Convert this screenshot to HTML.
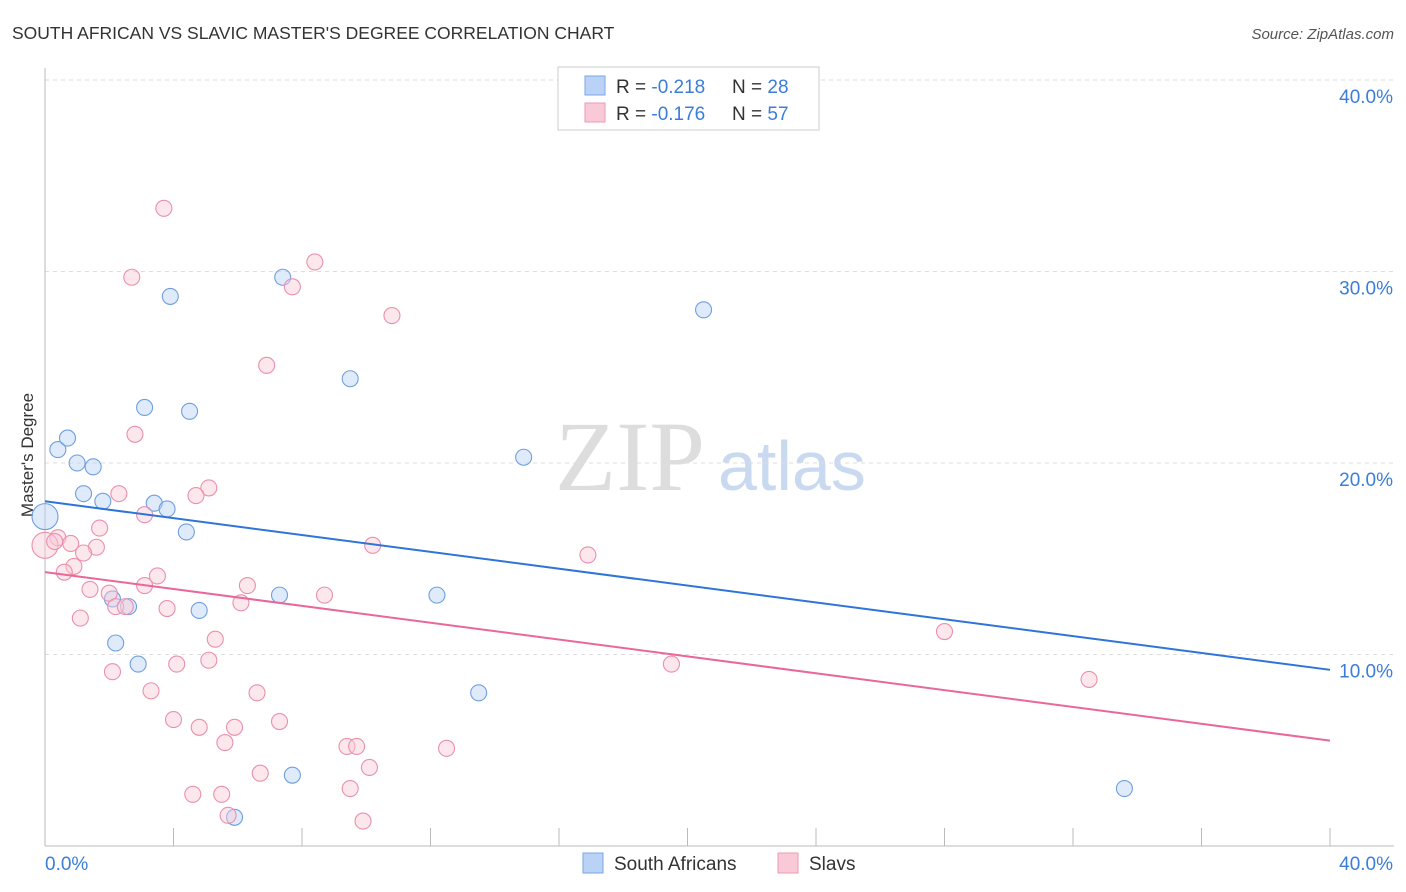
<!DOCTYPE html>
<html><head><meta charset="utf-8"><style>
body{margin:0;background:#fff;font-family:"Liberation Sans",sans-serif;}
svg{display:block}
</style></head><body>
<svg width="1406" height="892">
<text x="12" y="39" font-size="17.5" fill="#333">SOUTH AFRICAN VS SLAVIC MASTER'S DEGREE CORRELATION CHART</text>
<text x="1394" y="39" font-size="15" fill="#555" font-style="italic" text-anchor="end">Source: ZipAtlas.com</text>
<text x="33" y="455" font-size="17" fill="#333" transform="rotate(-90 33 455)" text-anchor="middle">Master's Degree</text>
<text x="555" y="490" font-size="100" fill="#ddd" font-family="Liberation Serif,serif">ZIP</text>
<text x="718" y="490" font-size="70" fill="#c9d9f0">atlas</text>
<g id="grid"></g><g id="axes"></g><g id="marks"></g>
<g>
<rect x="558" y="67" width="261" height="63" fill="#fff" stroke="#ccc"/>
<rect x="585" y="76" width="20" height="19" fill="#b9d2f5" stroke="#7aa6e6"/>
<rect x="585" y="103" width="20" height="19" fill="#f9c9d7" stroke="#ec9ab5"/>
<text x="616" y="93" font-size="19" fill="#333">R = <tspan fill="#3b7dd8">-0.218</tspan>  <tspan x="732">N = </tspan><tspan fill="#3b7dd8">28</tspan></text>
<text x="616" y="120" font-size="19" fill="#333">R = <tspan fill="#3b7dd8">-0.176</tspan>  <tspan x="732">N = </tspan><tspan fill="#3b7dd8">57</tspan></text>
</g>
<g>
<rect x="583" y="853" width="20" height="20" fill="#b9d2f5" stroke="#7aa6e6"/>
<text x="614" y="870" font-size="19" fill="#333">South Africans</text>
<rect x="778" y="853" width="20" height="20" fill="#f9c9d7" stroke="#ec9ab5"/>
<text x="809" y="870" font-size="19" fill="#333">Slavs</text>
</g>
</svg>
<script>
const yTicks=[10,20,30,40];
const yTickLabels=["10.0%","20.0%","30.0%","40.0%"];
const blueX=[0,0.4,0.7,1.0,1.5,1.2,1.8,3.1,3.9,4.5,3.4,3.8,4.4,2.1,2.6,2.2,2.9,4.8,7.4,7.3,9.5,7.7,5.9,12.2,13.5,14.9,20.5,33.6];
const blueY=[17.2,20.7,21.3,20.0,19.8,18.4,18.0,22.9,28.7,22.7,17.9,17.6,16.4,12.9,12.5,10.6,9.5,12.3,29.7,13.1,24.4,3.7,1.5,13.1,8.0,20.3,28.0,3.0];
const pinkX=[3.7,2.7,8.4,7.7,10.8,6.9,2.8,2.3,5.1,4.7,3.1,1.7,0.4,0,0.8,1.6,1.2,10.2,16.9,0.9,0.6,3.5,3.1,6.3,1.4,2.0,8.7,6.1,2.2,2.5,3.8,1.1,5.3,5.1,4.1,2.1,19.5,28.0,32.5,3.3,6.6,4.0,4.8,7.3,5.9,5.6,9.4,9.7,12.5,10.1,6.7,9.5,4.6,5.5,5.7,9.9,0.3];
const pinkY=[33.3,29.7,30.5,29.2,27.7,25.1,21.5,18.4,18.7,18.3,17.3,16.6,16.1,15.7,15.8,15.6,15.3,15.7,15.2,14.6,14.3,14.1,13.6,13.6,13.4,13.2,13.1,12.7,12.5,12.5,12.4,11.9,10.8,9.7,9.5,9.1,9.5,11.2,8.7,8.1,8.0,6.6,6.2,6.5,6.2,5.4,5.2,5.2,5.1,4.1,3.8,3.0,2.7,2.7,1.6,1.3,15.9];
const blueTrend=[18.0,9.2];
const pinkTrend=[14.3,5.5];
const NS="http://www.w3.org/2000/svg";
const sx=v=>45+v*32.125, sy=v=>846-v*19.15;
function mk(t,a,p){const e=document.createElementNS(NS,t);for(const k in a)e.setAttribute(k,a[k]);document.getElementById(p).appendChild(e);return e;}
yTicks.forEach((t,i)=>{
 const g=mk('line',{x1:45,x2:1394,y1:sy(t),y2:sy(t),stroke:'#ddd','stroke-dasharray':'4 4'},'grid');
 
 
 const l=mk('text',{x:1393,y:sy(t)+23,'font-size':19,fill:'#3b7dd8','text-anchor':'end'},'axes');l.textContent=yTickLabels[i];
 
 
});
mk('line',{x1:45,x2:45,y1:68,y2:846,stroke:'#bbb'},'axes');
mk('line',{x1:45,x2:1394,y1:846,y2:846,stroke:'#bbb'},'axes');
for(let i=0;i<=10;i++){const t=mk('line',{x1:sx(i*4),x2:sx(i*4),y1:828,y2:846,stroke:'#bbb'},'axes');
 
 }
const x0=mk('text',{x:45,y:870,'font-size':19,fill:'#3b7dd8'},'axes');x0.textContent='0.0%';


const x1=mk('text',{x:1393,y:870,'font-size':19,fill:'#3b7dd8','text-anchor':'end'},'axes');x1.textContent='40.0%';


function pts(X,Y,f,s,name){X.forEach((x,i)=>{const r=(x===0)?13:8;
 const c=mk('circle',{cx:sx(x),cy:sy(Y[i]),r:r,fill:f,'fill-opacity':0.45,stroke:s,'stroke-width':1.1},'marks');
 
 });}
pts(blueX,blueY,'#b9d2f5','#6f9fe0','blue');
pts(pinkX,pinkY,'#f9c9d7','#ea8fae','pink');
const bl=mk('line',{x1:sx(0),y1:sy(blueTrend[0]),x2:sx(40),y2:sy(blueTrend[1]),stroke:'#2f74d8','stroke-width':2},'marks');


const pl=mk('line',{x1:sx(0),y1:sy(pinkTrend[0]),x2:sx(40),y2:sy(pinkTrend[1]),stroke:'#e8689a','stroke-width':2},'marks');


</script>
</body></html>
